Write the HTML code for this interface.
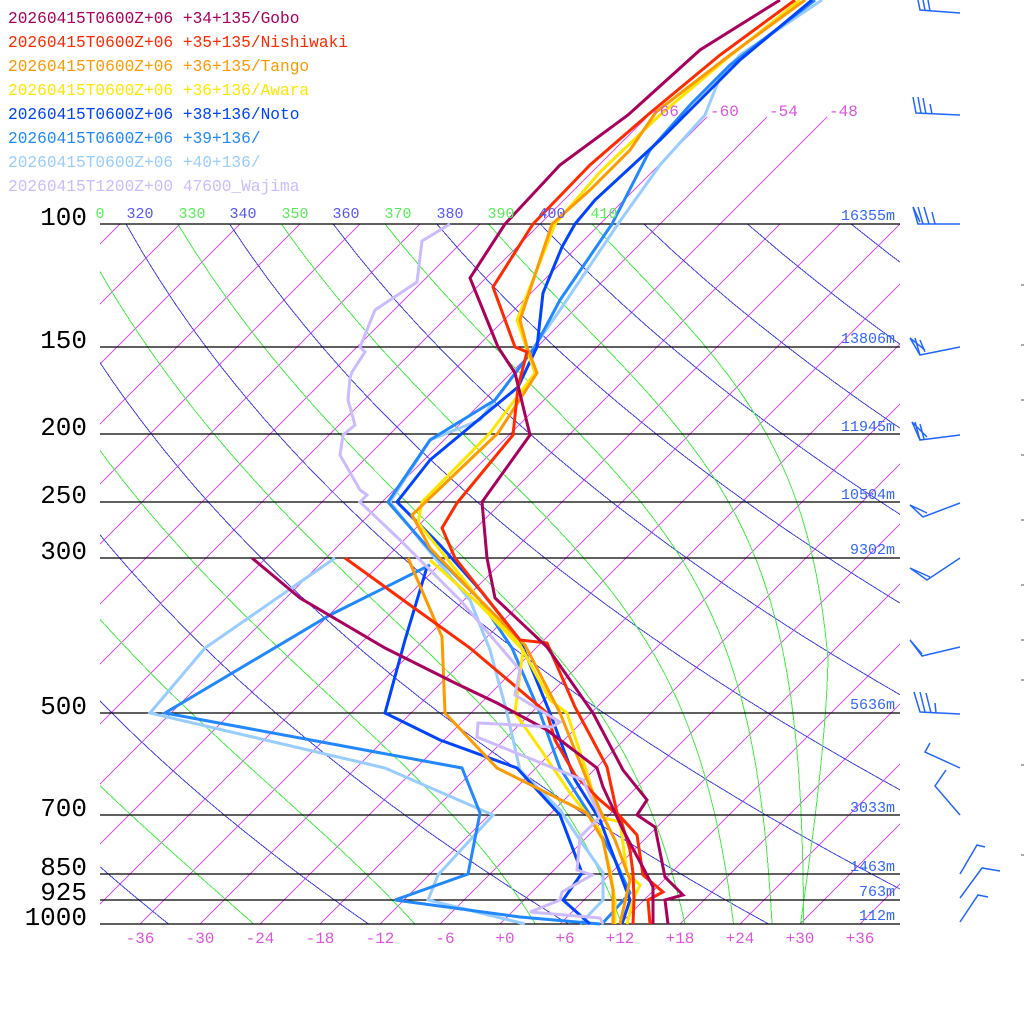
<!DOCTYPE html>
<html><head><meta charset="utf-8"><style>
html,body{margin:0;padding:0;background:#fff;width:1024px;height:1024px;overflow:hidden}
svg{display:block}
text{font-family:"Liberation Mono","DejaVu Sans Mono",monospace}
</style></head><body>
<svg id="s" width="1024" height="1024" viewBox="0 0 1024 1024" xmlns="http://www.w3.org/2000/svg">
<rect width="1024" height="1024" fill="#fff"/>
<defs><clipPath id="c"><rect x="100" y="224" width="800" height="700"/></clipPath></defs>
<g id="grid" clip-path="url(#c)" fill="none" stroke-width="1" shape-rendering="crispEdges"></g>
<g id="top" stroke="#e055f0" stroke-width="1" shape-rendering="crispEdges"></g>
<g stroke="#000" stroke-width="1.3">
<line x1="100" y1="224" x2="900" y2="224"/><line x1="100" y1="347" x2="900" y2="347"/>
<line x1="100" y1="434" x2="900" y2="434"/><line x1="100" y1="502" x2="900" y2="502"/>
<line x1="100" y1="558" x2="900" y2="558"/><line x1="100" y1="713" x2="900" y2="713"/>
<line x1="100" y1="815" x2="900" y2="815"/><line x1="100" y1="874" x2="900" y2="874"/>
<line x1="100" y1="900" x2="900" y2="900"/><line x1="100" y1="924" x2="900" y2="924"/>
</g>
<g fill="none" stroke-width="3" stroke-linejoin="miter">
<polyline stroke="#99ccff" points="822,0 740,55 720,77 705,115 660,165 618,224 560,310 525,360 480,420 430,440 390,502 420,540 470,600 490,650 507,713 520,770 560,810 580,840 603,873 603,900 580,924"/>
<polyline stroke="#99ccff" points="335,558 205,648 150,713 385,768 493,815 438,875 428,900 525,924"/>
<polyline stroke="#2288ff" points="815,0 730,65 690,105 650,150 612,224 560,300 535,347 495,400 430,440 388,502 430,550 480,600 512,648 540,713 560,768 590,815 615,860 630,893 602,924"/>
<polyline stroke="#2288ff" points="430,565 330,615 165,713 462,768 480,813 468,874 395,900 520,917 600,924"/>
<polyline stroke="#0044ff" points="812,0 740,60 690,110 660,140 595,200 575,224 562,247 543,293 537,347 518,387 430,460 397,502 440,545 480,590 520,640 550,713 575,780 600,820 615,860 630,900 622,924"/>
<polyline stroke="#0044ff" points="427,567 405,640 385,713 440,740 517,768 560,815 582,873 563,900 590,924"/>
<polyline stroke="#ffe600" points="800,0 725,60 660,115 600,172 555,224 517,320 535,373 490,433 422,502 418,523 440,550 480,600 520,645 550,700 567,713 587,773 600,817 620,822 627,873 640,885 633,900 627,924"/>
<polyline stroke="#ffe600" points="430,560 480,605 523,650 515,713 543,753 570,793 600,830 610,870 615,900 615,924"/>
<polyline stroke="#ff9900" points="805,0 730,55 656,112 630,150 590,190 552,224 520,320 527,347 537,373 498,433 412,515 430,548 475,595 525,645 560,713 585,775 600,810 615,840 630,880 620,924"/>
<polyline stroke="#ff9900" points="408,558 442,637 445,713 497,768 587,813 603,840 613,890 613,924"/>
<polyline stroke="#ff2a00" points="795,0 720,55 650,113 590,165 533,224 493,287 515,347 527,352 518,387 513,435 457,503 442,528 455,558 520,640 547,643 575,707 607,767 617,813 637,835 643,875 663,892 648,900 650,924"/>
<polyline stroke="#ff2a00" points="345,558 410,605 470,648 547,713 555,740 575,775 600,800 620,817 630,850 633,873 634,900 633,924"/>
<polyline stroke="#a8005c" points="780,0 700,50 628,115 560,165 505,224 470,278 498,347 515,373 530,435 482,502 487,558 495,598 547,647 593,713 623,770 647,800 637,815 655,827 665,877 683,895 665,900 668,924"/>
<polyline stroke="#a8005c" points="252,558 300,598 385,648 455,683 497,703 547,730 597,768 603,787 623,830 647,875 653,887 653,924"/>
<polyline stroke="#ccbbff" points="450,224 422,241 417,282 375,310 360,347 365,352 352,372 350,378 348,400 355,425 343,435 340,455 360,490 367,495 360,502 400,540 460,600 520,670 515,695 560,722 552,727 478,723 477,737 583,780 600,817 580,837 577,870 592,875 562,892 560,900 530,912 600,918 603,924"/>
</g>
<g font-size="26" fill="#000" text-anchor="end">
<text x="87" y="225">100</text><text x="87" y="348">150</text><text x="87" y="435">200</text>
<text x="87" y="503">250</text><text x="87" y="559">300</text><text x="87" y="714">500</text>
<text x="87" y="816">700</text><text x="87" y="875">850</text><text x="87" y="900">925</text>
<text x="87" y="925">1000</text>
</g>
<g font-size="15" fill="#3366ff" text-anchor="end">
<text x="895" y="220">16355m</text><text x="895" y="343">13806m</text><text x="895" y="431">11945m</text>
<text x="895" y="499">10504m</text><text x="895" y="554">9302m</text><text x="895" y="709">5636m</text>
<text x="895" y="812">3033m</text><text x="895" y="871">1463m</text><text x="895" y="896">763m</text>
<text x="895" y="920">112m</text>
</g>
<g font-size="15" text-anchor="middle">
<text x="100" y="218" fill="#55ee55">0</text>
<text x="140" y="218" fill="#5555ff">320</text><text x="192" y="218" fill="#55ee55">330</text>
<text x="243" y="218" fill="#5555ff">340</text><text x="295" y="218" fill="#55ee55">350</text>
<text x="346" y="218" fill="#5555ff">360</text><text x="398" y="218" fill="#55ee55">370</text>
<text x="450" y="218" fill="#5555ff">380</text><text x="501" y="218" fill="#55ee55">390</text>
<text x="552" y="218" fill="#5555ff">400</text><text x="604" y="218" fill="#55ee55">410</text>
</g>
<g font-size="16" fill="#dd55dd">
<text x="650" y="116">-66</text><text x="710" y="116">-60</text><text x="769" y="116">-54</text><text x="829" y="116">-48</text>
</g>
<g font-size="16" fill="#dd55dd" text-anchor="middle">
<text x="140" y="943">-36</text><text x="200" y="943">-30</text><text x="260" y="943">-24</text>
<text x="320" y="943">-18</text><text x="380" y="943">-12</text><text x="445" y="943">-6</text>
<text x="505" y="943">+0</text><text x="565" y="943">+6</text><text x="620" y="943">+12</text>
<text x="680" y="943">+18</text><text x="740" y="943">+24</text><text x="800" y="943">+30</text>
<text x="860" y="943">+36</text>
</g>
<g font-size="16.2">
<text x="8" y="23" fill="#a8005c">20260415T0600Z+06 +34+135/Gobo</text>
<text x="8" y="47" fill="#ff2a00">20260415T0600Z+06 +35+135/Nishiwaki</text>
<text x="8" y="71" fill="#ff9900">20260415T0600Z+06 +36+135/Tango</text>
<text x="8" y="95" fill="#ffe600">20260415T0600Z+06 +36+136/Awara</text>
<text x="8" y="119" fill="#0044ff">20260415T0600Z+06 +38+136/Noto</text>
<text x="8" y="143" fill="#2288ff">20260415T0600Z+06 +39+136/</text>
<text x="8" y="167" fill="#99ccff">20260415T0600Z+06 +40+136/</text>
<text x="8" y="191" fill="#ccbbff">20260415T1200Z+00 47600_Wajima</text>
</g>
<g fill="none" stroke="#2266ff" stroke-width="1.5">
<polyline points="960,13 920,10 918,0"/><line x1="925" y1="10" x2="923" y2="0"/><line x1="930" y1="11" x2="928" y2="0"/>
<polyline points="960,115 916,113 913,97"/><line x1="921" y1="113" x2="918" y2="97"/><line x1="926" y1="114" x2="923" y2="98"/><line x1="932" y1="114" x2="930" y2="104"/>
<polyline points="960,224 918,224 913,207"/><line x1="923" y1="224" x2="918" y2="207"/><line x1="929" y1="224" x2="924" y2="207"/><line x1="935" y1="224" x2="932" y2="212"/><polyline points="913,207 920,222"/>
<polyline points="960,347 920,355 910,338 925,350"/><line x1="920" y1="355" x2="915" y2="338"/><line x1="925" y1="352" x2="920" y2="340"/>
<polyline points="960,435 920,440 912,422 927,437"/><line x1="920" y1="440" x2="915" y2="422"/><line x1="924" y1="439" x2="920" y2="424"/>
<polyline points="960,503 923,517 910,505 927,513"/>
<polyline points="960,558 927,580 910,568 930,577"/>
<polyline points="960,647 922,656 910,640 922,654"/>
<polyline points="960,714 920,712 914,692"/><line x1="925" y1="712" x2="920" y2="692"/><line x1="931" y1="713" x2="926" y2="693"/><line x1="936" y1="713" x2="935" y2="703"/>
<polyline points="960,768 925,752 930,743"/>
<polyline points="960,815 935,786 946,770"/>
<polyline points="960,874 977,845 985,847"/>
<polyline points="960,898 982,868 1000,871"/>
<polyline points="960,922 978,895 988,897"/>
</g>
<g stroke="#555" stroke-width="1">
<line x1="1021" y1="285" x2="1024" y2="285"/><line x1="1021" y1="345" x2="1024" y2="345"/>
<line x1="1021" y1="400" x2="1024" y2="400"/><line x1="1021" y1="455" x2="1024" y2="455"/>
<line x1="1021" y1="520" x2="1024" y2="520"/><line x1="1021" y1="585" x2="1024" y2="585"/>
<line x1="1021" y1="640" x2="1024" y2="640"/><line x1="1021" y1="680" x2="1024" y2="680"/>
<line x1="1021" y1="765" x2="1024" y2="765"/><line x1="1021" y1="855" x2="1024" y2="855"/>
</g>
</svg>
<script>
(function(){
var NS="http://www.w3.org/2000/svg";
var g=document.getElementById('grid'), tg=document.getElementById('top');
function Y(p){return 924-304.0*Math.log(1000/p);}
function X(Tc,p){return 500+10*Tc+(924-Y(p));}
function add(par,d,col){var e=document.createElementNS(NS,'path');e.setAttribute('d',d);e.setAttribute('stroke',col);e.setAttribute('fill','none');e.setAttribute('stroke-width','1');par.appendChild(e);}
for(var x0=-760;x0<=900;x0+=60){add(g,'M'+x0+',924 L'+(x0+700)+',224','#e055f0');}
for(var xt=540;xt<=720;xt+=60){add(tg,'M'+xt+',224 L'+(xt+107)+',117','#e055f0');}
for(var th=160;th<=520;th+=20){var d='';for(var p=100;p<=1000.1;p+=10){var T=th*Math.pow(p/1000,0.2857)-273.15;d+=(d?'L':'M')+X(T,p).toFixed(1)+','+Y(p).toFixed(1);}add(g,d,'#4444ee');}
var Rd=287.04,cp=1005.7,L=2.5e6,eps=0.622;
function rs(T,p){var tc=T-273.15;var es=6.112*Math.exp(17.67*tc/(tc+243.5));return eps*es/Math.max(p-es,1);}
function f(T,p){var r=rs(T,p);return (Rd*T+L*r)/(cp+L*L*r*eps/(Rd*T*T));}
for(var th=170;th<=410;th+=20){var T=th*Math.pow(0.1,0.2857);var lp=Math.log(100),lend=Math.log(1000),n=400,h=(lend-lp)/n;var d='M'+X(T-273.15,100).toFixed(1)+','+Y(100).toFixed(1);
for(var i=0;i<n;i++){var p=Math.exp(lp);
var k1=f(T,p),k2=f(T+h*k1/2,Math.exp(lp+h/2)),k3=f(T+h*k2/2,Math.exp(lp+h/2)),k4=f(T+h*k3,Math.exp(lp+h));T+=h*(k1+2*k2+2*k3+k4)/6;lp+=h;
var pp=Math.exp(lp);
if(i%8==7||i==n-1){var xx=X(T-273.15,pp);
if(th>=410&&pp>420){var fr=Math.log(pp/420)/Math.log(1000/420);xx-=30*fr;}
d+='L'+xx.toFixed(1)+','+Y(pp).toFixed(1);}}
add(g,d,'#44ee44');}
})();
</script>
</body></html>
